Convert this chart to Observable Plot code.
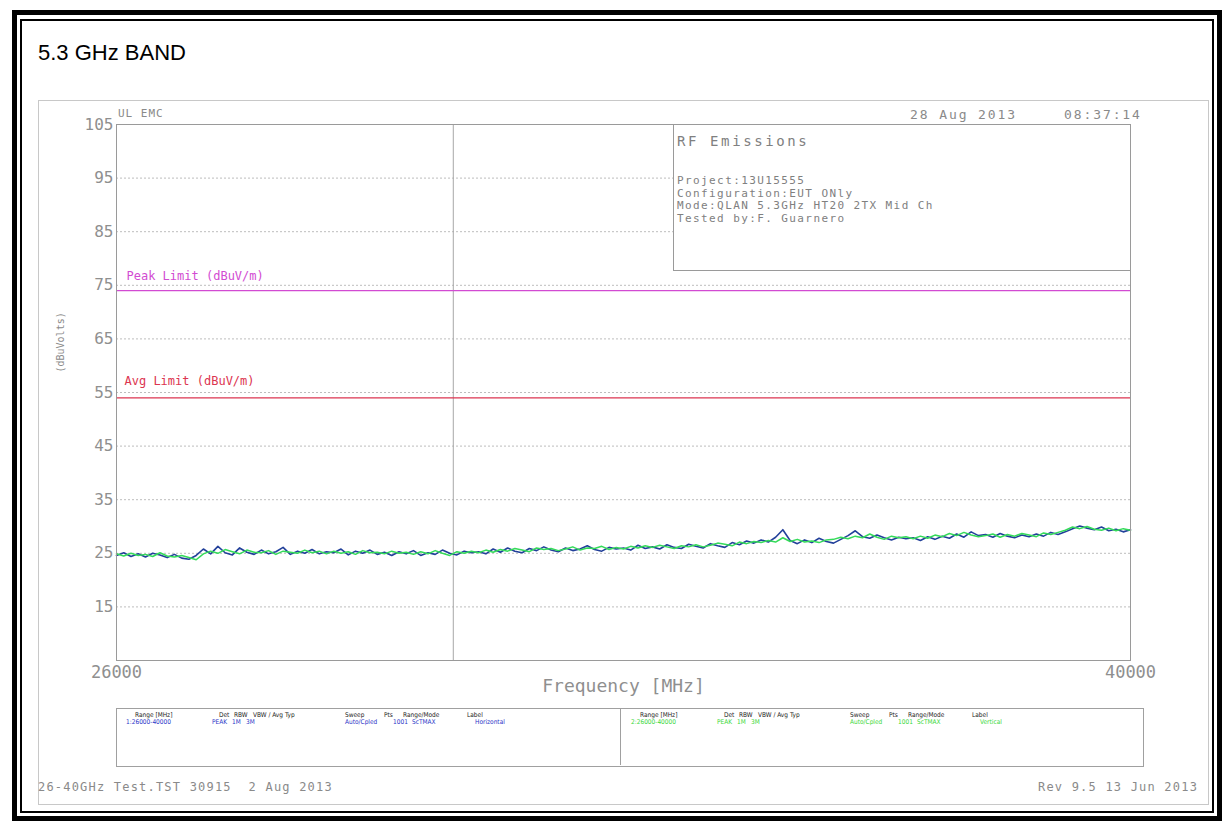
<!DOCTYPE html>
<html>
<head>
<meta charset="utf-8">
<script src="https://cdn.jsdelivr.net/npm/d3@7"></script>
<script src="https://cdn.jsdelivr.net/npm/@observablehq/plot@0.6"></script>
<style>
  body { margin: 0; background: #fff; }
  #page { position: relative; width: 1228px; height: 821px; overflow: hidden; background: #fff; }
  .abs { position: absolute; white-space: pre; }
  .mono { font-family: "DejaVu Sans Mono", "Liberation Mono", monospace; color: #8a8a8a; }
  .tiny { font-family: "DejaVu Sans Condensed", "DejaVu Sans", sans-serif; font-size: 6.5px; white-space: pre; position: absolute; }
</style>
</head>
<body>
<div id="page">
  <div class="abs" style="left:12px;top:10px;width:1200px;height:801px;border:5px solid #000;"></div>
  <div class="abs" style="left:20px;top:19px;width:1190px;height:790px;border:2px solid #000;"></div>
  <div class="abs" style="left:38px;top:40px;font-family:'Liberation Sans',Arial,sans-serif;font-size:22px;color:#000;">5.3 GHz BAND</div>
  <div class="abs" style="left:38px;top:100px;width:1169px;height:703px;border:1px solid #c8c8c8;"></div>
  <div id="chart" class="abs" style="left:0;top:0;"></div>
  <div id="overlay"></div>
</div>
<script>
// ---------- data ----------
const freqMHz = [
  26000,26100,26200,26300,26400,26500,26600,26700,26800,26900,
  27000,27100,27200,27300,27400,27500,27600,27700,27800,27900,
  28000,28100,28200,28300,28400,28500,28600,28700,28800,28900,
  29000,29100,29200,29300,29400,29500,29600,29700,29800,29900,
  30000,30100,30200,30300,30400,30500,30600,30700,30800,30900,
  31000,31100,31200,31300,31400,31500,31600,31700,31800,31900,
  32000,32100,32200,32300,32400,32500,32600,32700,32800,32900,
  33000,33100,33200,33300,33400,33500,33600,33700,33800,33900,
  34000,34100,34200,34300,34400,34500,34600,34700,34800,34900,
  35000,35100,35200,35300,35400,35500,35600,35700,35800,35900,
  36000,36100,36200,36300,36400,36500,36600,36700,36800,36900,
  37000,37100,37200,37300,37400,37500,37600,37700,37800,37900,
  38000,38100,38200,38300,38400,38500,38600,38700,38800,38900,
  39000,39100,39200,39300,39400,39500,39600,39700,39800,39900,
  40000
];
const horizontalDbuv = [
  24.6,25.1,24.4,24.9,24.3,25.0,24.7,24.2,24.8,24.1,
  23.9,24.6,25.8,24.9,26.3,25.1,24.7,26.0,25.2,24.8,
  25.6,24.9,25.3,26.1,24.8,25.4,25.0,25.7,24.9,25.3,
  25.1,25.8,24.7,25.4,25.0,25.6,24.8,25.2,24.6,25.3,
  24.9,25.5,24.6,25.1,24.8,25.6,25.0,24.7,25.4,25.1,
  25.3,24.9,25.8,25.2,26.0,25.4,25.1,25.9,25.5,26.2,
  25.6,25.3,26.0,25.5,25.8,26.4,25.7,25.4,26.1,25.8,
  26.0,25.6,26.5,25.9,26.2,25.8,26.6,26.1,25.9,26.7,
  26.3,26.0,26.8,26.4,26.1,27.0,26.6,27.3,26.9,27.5,
  27.1,28.0,29.4,27.4,26.8,27.5,27.0,27.8,27.2,26.9,
  27.6,28.3,29.2,28.1,27.8,28.4,27.9,27.5,28.0,27.7,
  27.9,27.4,28.1,27.6,28.2,27.8,28.6,28.0,29.0,28.3,
  28.5,28.0,28.7,28.2,27.9,28.4,28.1,28.6,28.2,28.9,
  28.5,29.0,29.6,30.1,29.7,29.4,29.9,29.2,29.5,29.0,
  29.4
];
const verticalDbuv = [
  24.9,24.5,25.0,24.6,24.8,24.4,25.1,24.5,24.3,24.6,
  24.2,23.8,24.9,25.4,25.0,25.7,25.3,24.9,25.6,25.2,
  25.1,25.5,24.8,25.4,25.2,25.0,25.6,25.1,25.4,24.9,
  25.4,25.0,25.3,24.8,25.5,25.1,25.2,24.9,25.4,25.0,
  25.2,24.8,25.3,24.9,25.5,25.0,24.6,25.3,25.0,25.4,
  25.1,25.6,25.2,25.7,25.4,25.9,25.6,25.3,26.0,25.7,
  25.9,25.5,25.8,26.2,25.6,26.0,25.9,26.3,25.7,26.1,
  25.8,26.3,26.0,26.4,26.1,26.5,26.2,25.9,26.4,26.2,
  26.6,26.2,26.5,26.9,26.7,26.4,27.1,26.8,27.2,27.0,
  27.4,27.1,27.9,27.2,27.6,27.1,27.3,27.0,27.5,27.6,
  28.0,27.7,28.2,27.9,28.6,28.0,27.6,28.2,27.9,28.1,
  27.7,28.2,27.8,28.4,28.1,28.7,28.3,28.9,28.4,28.1,
  28.3,28.6,28.0,28.5,28.2,28.7,28.4,28.1,28.8,28.5,
  28.9,29.3,29.9,29.6,30.0,29.5,29.3,29.7,29.2,29.6,
  29.3
];
const yTicks = [15, 25, 35, 45, 55, 65, 75, 85, 95, 105];
const yGrid = [15, 25, 35, 45, 55, 65, 75, 85, 95];
const xTicks = [26000, 40000];
const xDomain = [26000, 40000];
const yDomain = [5, 105];
const markerFreq = [30650];
const peakLimit = [74];
const avgLimit = [54];
const limitLabels = ["Peak Limit (dBuV/m)", "Avg Limit (dBuV/m)"];
const xLabel = "Frequency [MHz]";
const yLabel = "(dBuVolts)";

// ---------- chart ----------
const hTrace = freqMHz.map((f, i) => ({f, v: horizontalDbuv[i]}));
const vTrace = freqMHz.map((f, i) => ({f, v: verticalDbuv[i]}));
const monoFont = "'DejaVu Sans Mono','Liberation Mono',monospace";

const chart = Plot.plot({
  width: 1228,
  height: 821,
  marginLeft: 116,
  marginRight: 98,
  marginTop: 124,
  marginBottom: 161,
  style: {fontFamily: monoFont, fontSize: "16px", color: "#8f8f8f", background: "transparent", overflow: "visible"},
  x: {domain: xDomain},
  y: {domain: yDomain},
  marks: [
    Plot.ruleY(yGrid, {stroke: "#bdbdbd", strokeDasharray: "2,2", strokeWidth: 1}),
    Plot.ruleX(markerFreq, {stroke: "#a8a8a8", strokeWidth: 1}),
    Plot.ruleY(peakLimit, {stroke: "#d24bd2", strokeWidth: 1.3}),
    Plot.ruleY(avgLimit, {stroke: "#dc3550", strokeWidth: 1.3}),
    Plot.text([limitLabels[0]], {x: xDomain[0], y: peakLimit[0], text: d => d, textAnchor: "start", dx: 10, dy: -15, fill: "#d24bd2", fontSize: 12, fontFamily: monoFont, letterSpacing: 0.3}),
    Plot.text([limitLabels[1]], {x: xDomain[0], y: avgLimit[0], text: d => d, textAnchor: "start", dx: 8, dy: -17, fill: "#dc3550", fontSize: 12, fontFamily: monoFont, letterSpacing: 0.3}),
    Plot.line(hTrace, {x: "f", y: "v", stroke: "#22409a", strokeWidth: 1.6}),
    Plot.line(vTrace, {x: "f", y: "v", stroke: "#35db5a", strokeWidth: 1.5}),
    Plot.frame({stroke: "#9a9a9a", strokeWidth: 1}),
    Plot.axisY({ticks: yTicks, tickSize: 0, tickPadding: 3, label: null, fontSize: 16}),
    Plot.axisX({ticks: xTicks, tickSize: 0, tickPadding: 5, tickFormat: d3.format("d"), label: null, fontSize: 17}),
    Plot.text([xLabel], {frameAnchor: "bottom", dy: 31, text: d => d, fontSize: 18, fontFamily: monoFont, fill: "#8f8f8f", letterSpacing: 3}),
    Plot.text([yLabel], {frameAnchor: "left", dx: -56, dy: -20, rotate: -90, text: d => d, fontSize: 10, fontFamily: monoFont, fill: "#8a8a8a"})
  ]
});
document.getElementById("chart").appendChild(chart);

// ---------- overlay texts ----------
const overlay = document.getElementById("overlay");
function add(html, style, cls) {
  const d = document.createElement("div");
  d.className = cls || "abs mono";
  d.style.cssText = style;
  d.textContent = html;
  overlay.appendChild(d);
  return d;
}
const headerLeft = "UL EMC";
const headerDate = "28 Aug 2013";
const headerTime = "08:37:14";
add(headerLeft, "left:118px;top:107px;font-size:11px;letter-spacing:1px;");
add(headerDate, "left:910px;top:107px;font-size:13px;letter-spacing:1.9px;");
add(headerTime, "left:1064px;top:107px;font-size:13px;letter-spacing:1.9px;");

// info box
const infoTitle = "RF Emissions";
const infoLines = ["Project:13U15555", "Configuration:EUT ONly", "Mode:QLAN 5.3GHz HT20 2TX Mid Ch", "Tested by:F. Guarnero"];
add("", "left:673px;top:124px;width:456px;height:145px;background:#fff;border:1px solid #9a9a9a;", "abs");
add(infoTitle, "left:677px;top:133px;font-size:14px;letter-spacing:2.6px;color:#808080;");
infoLines.forEach((t, i) => add(t, `left:677px;top:${175 + i * 12.5}px;font-size:11px;letter-spacing:1.4px;color:#808080;line-height:12px;`));

// legend table
add("", "left:116px;top:708px;width:1026px;height:57px;border:1px solid #a0a0a0;", "abs");
add("", "left:620px;top:708px;width:0;height:57px;border-left:1px solid #a0a0a0;", "abs");
const legendHeaders = ["Range [MHz]", "Det", "RBW", "VBW / Avg Typ", "Sweep", "Pts", "Range/Mode", "Label"];
const headerX = [135, 219, 234, 253, 345, 384, 403, 467];
const traceRows = [
  {vals: ["1:26000-40000", "PEAK", "1M", "3M", "Auto/Cpled", "1001", "ScTMAX", "Horizontal"], color: "#2a35c8", off: 0},
  {vals: ["2:26000-40000", "PEAK", "1M", "3M", "Auto/Cpled", "1001", "ScTMAX", "Vertical"], color: "#3ad83a", off: 505}
];
const valueX = [126, 212, 232, 246, 345, 393, 412, 475];
traceRows.forEach(r => {
  legendHeaders.forEach((h, i) => add(h, `left:${headerX[i] + r.off}px;top:711px;color:#222;`, "tiny"));
  r.vals.forEach((v, i) => add(v, `left:${valueX[i] + r.off}px;top:718px;color:${r.color};`, "tiny"));
});

// footer
add("26-40GHz Test.TST 30915  2 Aug 2013", "left:38px;top:780px;font-size:12px;letter-spacing:1.2px;");
add("Rev 9.5 13 Jun 2013", "left:1038px;top:780px;font-size:12px;letter-spacing:1.2px;");
</script>
</body>
</html>
